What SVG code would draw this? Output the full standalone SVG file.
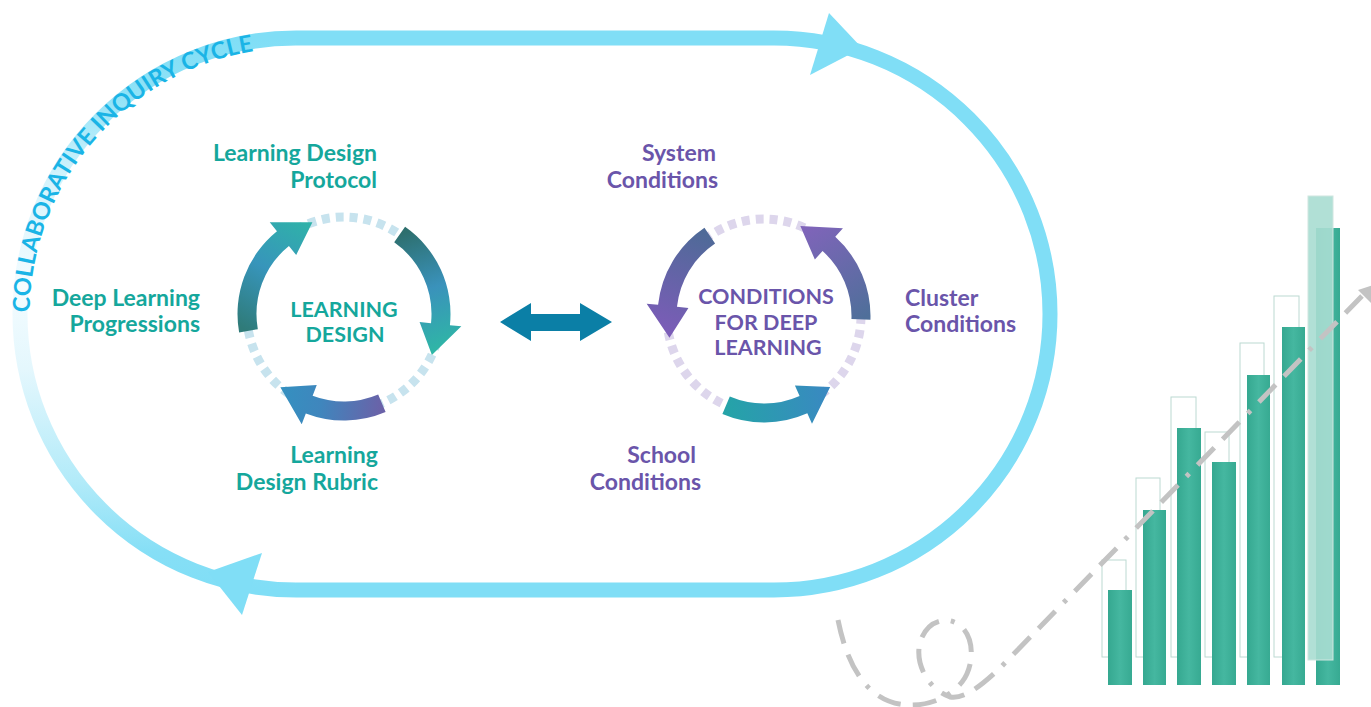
<svg xmlns="http://www.w3.org/2000/svg" width="1371" height="707" viewBox="0 0 1371 707">
<style>
.lbl{font-family:Lato,"Open Sans","Liberation Sans",sans-serif;font-weight:bold;font-size:23px}
.teal{fill:#15a79c}
.purp{fill:#6a55aa}
.ctr{font-size:21.5px;text-anchor:middle}
.end{text-anchor:end}
.cyc{font-family:Lato,"Open Sans","Liberation Sans",sans-serif;font-weight:bold;font-size:23.5px;fill:#1ab4e6}
.box{fill:none;stroke:#bcd9d2;stroke-width:1}
.bar{fill:url(#barG)}
</style>
<defs>
<linearGradient id="leftArc" gradientUnits="userSpaceOnUse" x1="0" y1="38" x2="0" y2="590">
<stop offset="0" stop-color="#80def6"/>
<stop offset="0.1" stop-color="#8fe2f7"/>
<stop offset="0.25" stop-color="#d3f3fc"/>
<stop offset="0.45" stop-color="#f4fcff"/>
<stop offset="0.6" stop-color="#e4f7fd"/>
<stop offset="0.8" stop-color="#b3ebf9"/>
<stop offset="0.93" stop-color="#86dff6"/>
<stop offset="1" stop-color="#80def6"/>
</linearGradient>
<linearGradient id="gA" gradientUnits="userSpaceOnUse" x1="248" y1="331" x2="312" y2="222">
<stop offset="0" stop-color="#2f7b79"/><stop offset="0.5" stop-color="#3795bb"/><stop offset="1" stop-color="#2fb3a8"/>
</linearGradient>
<linearGradient id="gB" gradientUnits="userSpaceOnUse" x1="400" y1="234" x2="440" y2="350">
<stop offset="0" stop-color="#2d6f6e"/><stop offset="0.5" stop-color="#3a92bb"/><stop offset="1" stop-color="#2fb6a6"/>
</linearGradient>
<linearGradient id="gC" gradientUnits="userSpaceOnUse" x1="382" y1="403" x2="282" y2="390">
<stop offset="0" stop-color="#6a62a8"/><stop offset="0.6" stop-color="#3f86bd"/><stop offset="1" stop-color="#3590c0"/>
</linearGradient>
<linearGradient id="gD" gradientUnits="userSpaceOnUse" x1="710" y1="236" x2="668" y2="335">
<stop offset="0" stop-color="#4f6a98"/><stop offset="1" stop-color="#7c5cb8"/>
</linearGradient>
<linearGradient id="gE" gradientUnits="userSpaceOnUse" x1="861" y1="320" x2="802" y2="228">
<stop offset="0" stop-color="#4f6f9a"/><stop offset="1" stop-color="#8064ba"/>
</linearGradient>
<linearGradient id="gF" gradientUnits="userSpaceOnUse" x1="726" y1="405" x2="830" y2="388">
<stop offset="0" stop-color="#25a3a8"/><stop offset="1" stop-color="#3a88c2"/>
</linearGradient>
<linearGradient id="barG" x1="0" y1="0" x2="1" y2="0">
<stop offset="0" stop-color="#35a890"/><stop offset="0.5" stop-color="#45b7a0"/><stop offset="1" stop-color="#37aa92"/>
</linearGradient>
<path id="cycPath" d="M29.5,312.32 A267,267 0 0 1 276,48.5"/>
</defs>

<g id="collaborative-inquiry-cycle">
<path d="M296,38 H774 A276,276 0 0 1 774,590 H296" fill="none" stroke="#80def6" stroke-width="15"/>
<path d="M296,590 A276,276 0 0 1 296,38" fill="none" stroke="url(#leftArc)" stroke-width="15"/>
<polygon points="829,13 810,75 862,48" fill="#80def6"/>
<polygon points="262,553 242,615 208,572" fill="#80def6"/>
<text class="cyc"><textPath href="#cycPath" textLength="374" lengthAdjust="spacing">COLLABORATIVE INQUIRY CYCLE</textPath></text>
</g>

<g id="learning-design">
<circle cx="344" cy="314" r="97" fill="none" stroke="#c7e3ee" stroke-width="9" stroke-dasharray="8 6"/>
<path d="M239.12,332.49 A106.5,106.5 0 0 1 276.98,231.24 L269.74,222.3 L312.42,222.29 L296.17,254.94 L288.94,246 A87.5,87.5 0 0 0 257.83,329.19 Z" fill="url(#gA)"/>
<path d="M405.09,226.76 A106.5,106.5 0 0 1 449.92,325.13 L461.35,326.33 L431.91,354.99 L419.58,321.94 L431.02,323.14 A87.5,87.5 0 0 0 394.19,242.32 Z" fill="url(#gB)"/>
<path d="M385.61,412.03 A106.5,106.5 0 0 1 305.83,413.43 L301.71,424.16 L280.36,387.21 L316.76,384.95 L312.64,395.69 A87.5,87.5 0 0 0 378.19,394.54 Z" fill="url(#gC)"/>
<text class="lbl teal ctr" x="344" y="317">LEARNING</text>
<text class="lbl teal ctr" x="345" y="342">DESIGN</text>
</g>

<g id="conditions-for-deep-learning">
<circle cx="764" cy="316" r="97" fill="none" stroke="#ddd6ec" stroke-width="9" stroke-dasharray="8 6"/>
<path d="M704.45,227.71 A106.5,106.5 0 0 0 658.08,304.87 L646.65,303.67 L669.48,337.82 L688.42,308.06 L676.98,306.86 A87.5,87.5 0 0 1 715.07,243.46 Z" fill="url(#gD)"/>
<path d="M870.44,319.72 A106.5,106.5 0 0 0 835.26,236.86 L842.95,228.31 L800.34,226.06 L814.85,259.52 L822.55,250.98 A87.5,87.5 0 0 1 851.45,319.05 Z" fill="url(#gE)"/>
<path d="M722.39,414.03 A106.5,106.5 0 0 0 807.31,413.29 L811.99,423.79 L830.15,386.94 L794.91,385.43 L799.59,395.93 A87.5,87.5 0 0 1 729.81,396.54 Z" fill="url(#gF)"/>
<text class="lbl purp ctr" x="766" y="304">CONDITIONS</text>
<text class="lbl purp ctr" x="766" y="330">FOR DEEP</text>
<text class="lbl purp ctr" x="768" y="355">LEARNING</text>
</g>

<g id="label-protocol"><text class="lbl teal end" x="377" y="161">Learning Design</text><text class="lbl teal end" x="377" y="188">Protocol</text></g>
<g id="label-progressions"><text class="lbl teal end" x="200" y="306">Deep Learning</text><text class="lbl teal end" x="200" y="332">Progressions</text></g>
<g id="label-rubric"><text class="lbl teal end" x="378" y="463">Learning</text><text class="lbl teal end" x="378" y="490">Design Rubric</text></g>
<g id="label-system"><text class="lbl purp end" x="716" y="161">System</text><text class="lbl purp end" x="718" y="188">Conditions</text></g>
<g id="label-cluster"><text class="lbl purp" x="905" y="306">Cluster</text><text class="lbl purp" x="905" y="332">Conditions</text></g>
<g id="label-school"><text class="lbl purp end" x="696" y="463">School</text><text class="lbl purp end" x="701" y="490">Conditions</text></g>

<g id="connectors">
<path d="M500,322 L531,303 L531,314 L580,314 L580,303 L612,322 L580,341 L580,331 L531,331 L531,341 Z" fill="#0b7fa6"/>
</g>

<g id="bar-chart">
<rect class="box" x="1102" y="560" width="24" height="97"/>
<rect class="box" x="1136" y="478" width="24" height="179"/>
<rect class="box" x="1171" y="397" width="25" height="260"/>
<rect class="box" x="1205" y="432" width="24" height="225"/>
<rect class="box" x="1240" y="343" width="24" height="314"/>
<rect class="box" x="1274" y="296" width="25" height="361"/>
<rect class="bar" x="1108" y="590" width="24" height="95"/>
<rect class="bar" x="1143" y="510" width="23" height="175"/>
<rect class="bar" x="1177" y="428" width="24" height="257"/>
<rect class="bar" x="1212" y="462" width="24" height="223"/>
<rect class="bar" x="1247" y="375" width="23" height="310"/>
<rect class="bar" x="1282" y="327" width="23" height="358"/>
<rect class="bar" x="1316" y="228" width="24" height="457"/>
<rect x="1308" y="196" width="25" height="464" fill="#a8ddd1" fill-opacity="0.9" stroke="#cfe6e0" stroke-width="1"/>
</g>

<g id="trend-line">
<path d="M838,620 C848,670 870,703 907,705 C930,706 950,697 962,682 C975,665 975,635 958,624 C942,614 922,625 919,648 C917,668 930,690 950,697 C965,700 985,682 1000,668 L1362,296" fill="none" stroke="#c3c3c3" stroke-width="5" stroke-dasharray="24 12 24 12 4 12"/>
<polygon points="1358,290 1376,308 1385,281" fill="#c3c3c3"/>
</g>
</svg>
